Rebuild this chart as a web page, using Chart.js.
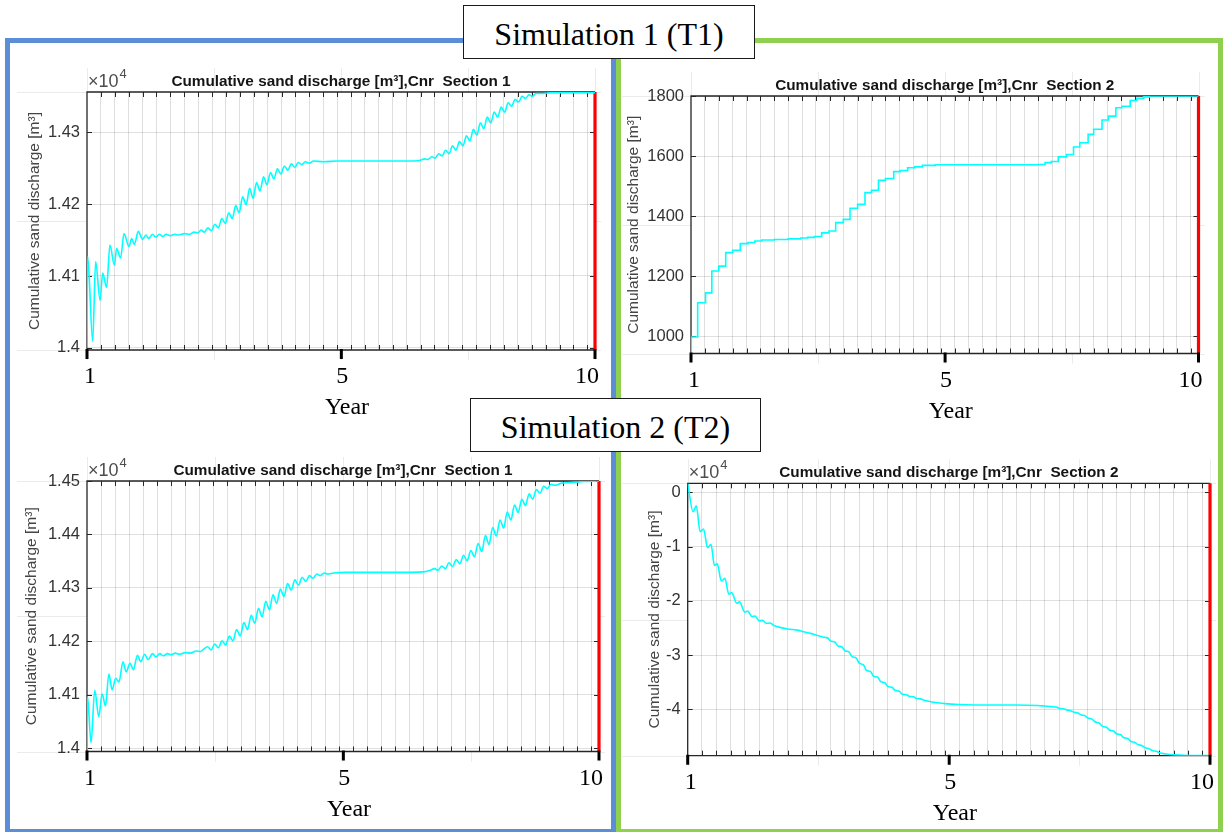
<!DOCTYPE html>
<html><head><meta charset="utf-8">
<script src="https://cdn.jsdelivr.net/npm/chart.js@4.4.1/dist/chart.umd.min.js"></script>
<style>
html,body{margin:0;padding:0;background:#fff;}
body{width:1225px;height:832px;position:relative;overflow:hidden;}
.frame{position:absolute;box-sizing:border-box;border-style:solid;border-width:5px;z-index:1;}
canvas{position:absolute;z-index:2;}
.simbox{position:absolute;box-sizing:border-box;border:1.5px solid #1a1a1a;background:#fff;z-index:3;
 font-family:'Liberation Serif','Times New Roman',serif;font-size:32px;color:#000;
 display:flex;align-items:center;justify-content:center;padding-top:4px;white-space:nowrap;}
</style></head>
<body>
<div class="frame" style="left:5px;top:38px;width:611px;height:796px;border-color:#5b8ed6;"></div>
<div class="frame" style="left:616px;top:38px;width:607px;height:796px;border-color:#8fd14f;"></div>
<canvas id="c1" width="600" height="360" style="left:10px;top:62px"></canvas>
<canvas id="c2" width="598" height="360" style="left:622px;top:62px"></canvas>
<canvas id="c3" width="600" height="372" style="left:10px;top:455px"></canvas>
<canvas id="c4" width="598" height="372" style="left:622px;top:455px"></canvas>
<div class="simbox" style="left:463px;top:5px;width:292px;height:54px;">Simulation 1 (T1)</div>
<div class="simbox" style="left:470px;top:398px;width:291px;height:54px;">Simulation 2 (T2)</div>
<script>
// ---- x axis (time steps, one grid line per step) ----
const X_MAX = 36.55;
const xMajorT = [0, 18.3, X_MAX];
const xMajorLabels = ['1', '5', '10'];

// ---- Simulation 1, Section 1 (m3) ----
const tlT = [0, 0.05, 0.41, 0.62, 0.94, 1.13, 1.41, 1.65, 1.97, 2.13,
 2.42, 2.66, 3.02, 3.21, 3.41, 3.69, 4.0, 4.24, 4.45, 4.7,
 4.95, 5.2, 5.45, 5.7, 6.0, 6.3, 6.6, 7.0, 7.4, 7.7,
 8.0, 8.2, 8.45, 8.7, 8.95, 9.2, 9.45, 9.7, 9.95, 10.2,
 10.45, 10.7, 10.95, 11.2, 11.45, 11.7, 11.95, 12.2, 12.45, 12.7,
 12.95, 13.2, 13.45, 13.7, 13.95, 14.2, 14.45, 14.7, 14.95, 15.2,
 15.45, 15.7, 16.0, 16.3, 17.0, 18.0, 20, 22, 23.5, 24.0,
 24.3, 24.55, 24.8, 25.05, 25.3, 25.55, 25.8, 26.05, 26.3, 26.55,
 26.8, 27.05, 27.3, 27.55, 27.8, 28.05, 28.3, 28.55, 28.8, 29.05,
 29.3, 29.55, 29.8, 30.05, 30.3, 30.55, 30.8, 31.05, 31.3, 31.55,
 31.8, 32.05, 32.3, 32.8, 33.5, 36.55];
const tlV = [14000, 14127, 14009, 14120, 14066, 14104, 14084, 14143, 14115, 14138,
 14125, 14159, 14141, 14152, 14144, 14162, 14151, 14157, 14152, 14158,
 14154, 14158, 14155, 14158, 14156, 14158, 14157, 14159, 14158, 14161,
 14160, 14164, 14161, 14167, 14163, 14172, 14167, 14180, 14173, 14188,
 14180, 14198, 14188, 14210, 14199, 14222, 14208, 14230, 14218, 14238,
 14227, 14244, 14235, 14249, 14242, 14253, 14247, 14256, 14251, 14258,
 14255, 14259, 14257, 14260, 14259, 14260, 14260, 14260, 14260, 14261,
 14263, 14262, 14266, 14264, 14270, 14267, 14275, 14270, 14281, 14275,
 14287, 14281, 14295, 14288, 14304, 14296, 14313, 14305, 14321, 14313,
 14328, 14321, 14335, 14328, 14341, 14336, 14346, 14342, 14350, 14347,
 14352, 14350, 14354, 14354, 14355, 14355];

// ---- Simulation 1, Section 2 (m3), step series ----
const trT = [0, 0.02, 0.48, 1.05, 1.5, 2.0, 2.5, 3.0, 3.55, 4.1,
 4.6, 5.1, 6.0, 7.0, 7.9, 8.4, 8.9, 9.41, 9.94, 10.42,
 10.97, 11.45, 12.0, 12.53, 13.0, 13.5, 14.0, 14.6, 15.06, 15.6,
 16.1, 16.67, 17.6, 25.0, 25.5, 25.95, 26.45, 27.05, 27.55, 28.0,
 28.6, 29.0, 29.6, 30.06, 30.6, 31.03, 31.63, 32.1, 32.6, 33.0, 36.55];
const trV = [945, 997, 1111, 1144, 1217, 1233, 1278, 1286, 1308, 1312,
 1317, 1320, 1322, 1324, 1327, 1329, 1332, 1344, 1350, 1378,
 1389, 1426, 1439, 1478, 1486, 1519, 1525, 1548, 1552, 1561,
 1564, 1569, 1571, 1572, 1578, 1582, 1597, 1605, 1630, 1644,
 1672, 1689, 1720, 1733, 1761, 1766, 1785, 1792, 1797, 1800, 1800];

// ---- Simulation 2, Section 1 (m3) ----
const blT = [0, 0.04, 0.29, 0.55, 0.84, 1.08, 1.32, 1.56, 1.8, 2.04,
 2.28, 2.57, 2.8, 3.07, 3.31, 3.6, 3.84, 4.12, 4.36, 4.68,
 4.92, 5.2, 5.45, 5.75, 6.0, 6.3, 6.6, 7.0, 7.4, 7.8,
 8.1, 8.35, 8.6, 8.86, 9.12, 9.38, 9.64, 9.9, 10.16, 10.42,
 10.68, 10.94, 11.2, 11.46, 11.72, 11.98, 12.24, 12.5, 12.76, 13.02,
 13.28, 13.54, 13.8, 14.06, 14.32, 14.58, 14.84, 15.1, 15.36, 15.62,
 15.88, 16.14, 16.4, 16.66, 16.92, 17.18, 17.6, 18.5, 20, 22,
 24, 24.5, 24.8, 25.06, 25.32, 25.58, 25.84, 26.1, 26.36, 26.62,
 26.88, 27.14, 27.4, 27.66, 27.92, 28.18, 28.44, 28.7, 28.96, 29.22,
 29.48, 29.74, 30.0, 30.26, 30.52, 30.78, 31.04, 31.3, 31.56, 31.82,
 32.08, 32.34, 32.6, 32.86, 33.12, 33.38, 33.9, 34.5, 35.5, 36.55];
const blV = [13996, 14096, 14010, 14109, 14059, 14102, 14079, 14139, 14109, 14131,
 14124, 14162, 14143, 14159, 14147, 14174, 14162, 14176, 14166, 14177,
 14171, 14177, 14173, 14177, 14175, 14178, 14176, 14179, 14178, 14182,
 14181, 14186, 14190, 14184, 14195, 14188, 14201, 14193, 14210, 14201,
 14222, 14210, 14235, 14222, 14249, 14234, 14262, 14246, 14275, 14259,
 14287, 14271, 14298, 14284, 14308, 14296, 14315, 14305, 14320, 14312,
 14323, 14318, 14326, 14323, 14328, 14326, 14328, 14329, 14329, 14329,
 14330, 14333, 14336, 14333, 14341, 14336, 14347, 14340, 14353, 14345,
 14361, 14351, 14370, 14358, 14383, 14368, 14398, 14381, 14413, 14397,
 14427, 14412, 14442, 14427, 14455, 14441, 14466, 14454, 14476, 14466,
 14484, 14477, 14490, 14486, 14494, 14492, 14496, 14497, 14499, 14500];

// ---- Simulation 2, Section 2 (m3) ----
const brT = [0, 0.38, 0.6, 0.87, 1.11, 1.39, 1.63, 1.87, 2.07, 2.35,
 2.6, 2.88, 3.07, 3.44, 3.62, 4.0, 4.2, 4.5, 4.72, 5.0,
 5.25, 5.5, 5.75, 6.0, 6.45, 7.0, 7.66, 8.1, 8.6, 9.1,
 9.5, 9.8, 10.0, 10.3, 10.5, 10.8, 11.0, 11.3, 11.5, 11.8,
 12.0, 12.3, 12.5, 12.8, 13.0, 13.3, 13.5, 13.8, 14.0, 14.3,
 14.5, 14.8, 15.0, 15.3, 15.5, 15.8, 16.0, 16.3, 16.5, 17.0,
 17.5, 18.0, 19.0, 21.0, 23.0, 24.5, 25.0, 25.5, 25.8, 26.0,
 26.3, 26.5, 26.8, 27.0, 27.3, 27.5, 27.8, 28.0, 28.3, 28.5,
 28.8, 29.0, 29.3, 29.5, 29.8, 30.0, 30.3, 30.5, 30.8, 31.0,
 31.3, 31.5, 31.8, 32.0, 32.3, 32.5, 32.8, 33.0, 33.5, 34.0,
 35.0, 36.55];
const brV = [1600, -3570, -2470, -7260, -6760, -10200, -9580, -13500, -13200, -16350,
 -15860, -18800, -18500, -20460, -20200, -22100, -21900, -22900, -22800, -23700,
 -23600, -24150, -24100, -24500, -24900, -25200, -25400, -25700, -26000, -26400,
 -26700, -26850, -27400, -27600, -28300, -28500, -29200, -29450, -30300, -30550,
 -31500, -31800, -32800, -33050, -33900, -34100, -34900, -35100, -35800, -35950,
 -36500, -36650, -37200, -37300, -37600, -37700, -38000, -38080, -38300, -38600,
 -38800, -38950, -39100, -39200, -39200, -39300, -39400, -39500, -39600, -39800,
 -39900, -40100, -40250, -40500, -40700, -41000, -41200, -41600, -41800, -42300,
 -42550, -43100, -43300, -43800, -44000, -44500, -44700, -45200, -45400, -45900,
 -46100, -46500, -46700, -47100, -47250, -47600, -47750, -48000, -48250, -48400,
 -48500, -48520];

// ---- y axis ticks ----
const yTicks1 = [14000, 14100, 14200, 14300];
const yTicks2 = [1000, 1200, 1400, 1600, 1800];
const yTicks3 = [14000, 14100, 14200, 14300, 14400, 14500];
const yTicks4 = [-40000, -30000, -20000, -10000, 0];

const TITLE1 = 'Cumulative sand discharge [m³],Cnr  Section 1';
const TITLE2 = 'Cumulative sand discharge [m³],Cnr  Section 2';
const YTITLE = 'Cumulative sand discharge [m³]';

const gridT = Array.from({length: 36}, (_, i) => i + 1);
const Y_AXIS_W = 60;

const PANELS = {
  c1: {t: tlT, v: tlV, yMin: 13997, yMax: 14356, yTicks: yTicks1, exp: true, title: TITLE1,
       pad: {left: 77 - Y_AXIS_W, top: 30, right: 15, bottom: 72}, yTitleOff: 52, stepped: false},
  c2: {t: trT, v: trV, yMin: 942, yMax: 1800, yTicks: yTicks2, exp: false, title: TITLE2,
       pad: {left: 69 - Y_AXIS_W, top: 34, right: 21.5, bottom: 68.5}, yTitleOff: 57, stepped: 'before'},
  c3: {t: blT, v: blV, yMin: 13994, yMax: 14500, yTicks: yTicks3, exp: true, title: TITLE1,
       pad: {left: 77 - Y_AXIS_W, top: 26, right: 11, bottom: 75.5}, yTitleOff: 55, stepped: false},
  c4: {t: brT, v: brV, yMin: -48550, yMax: 1660, yTicks: yTicks4, exp: true, title: TITLE2,
       pad: {left: 65.7 - Y_AXIS_W, top: 28.3, right: 10, bottom: 71.3}, yTitleOff: 33, stepped: false}
};

const decor = {
  id: 'decor',
  beforeDraw(chart) {
    const a = chart.chartArea, ctx = chart.ctx;
    ctx.save();
    ctx.fillStyle = '#fff';
    ctx.fillRect(a.left, a.top, a.right - a.left, a.bottom - a.top);
    ctx.strokeStyle = 'rgba(0,0,0,0.08)';
    ctx.lineWidth = 1;
    ctx.beginPath();
    for (let i = 0; i <= 4; i++) {
      const x = Math.round(a.left + (a.right - a.left) * i / 4) + 0.5;
      ctx.moveTo(x, a.top - 24); ctx.lineTo(x, a.top);
      ctx.moveTo(x, a.bottom); ctx.lineTo(x, a.bottom + 10);
    }
    for (let j = 0; j <= 2; j++) {
      const y = Math.round(a.top + (a.bottom - a.top) * j / 2) + 0.5;
      ctx.moveTo(a.left - 70, y); ctx.lineTo(a.left, y);
      ctx.moveTo(a.right, y); ctx.lineTo(a.right + 6, y);
    }
    ctx.stroke();
    ctx.restore();
  },
  beforeDatasetsDraw(chart) {
    const P = PANELS[chart.canvas.id];
    const a = chart.chartArea, ctx = chart.ctx;
    const xs = chart.scales.x, ys = chart.scales.y;
    ctx.save();
    ctx.strokeStyle = '#262626';
    ctx.lineWidth = 1;
    ctx.beginPath();
    gridT.forEach(t => {
      const x = Math.round(xs.getPixelForValue(t)) + 0.5;
      ctx.moveTo(x, a.top); ctx.lineTo(x, a.top + 5);
      ctx.moveTo(x, a.bottom); ctx.lineTo(x, a.bottom - 5);
    });
    P.yTicks.forEach(v => {
      const y = Math.round(ys.getPixelForValue(v)) + 0.5;
      ctx.moveTo(a.left, y); ctx.lineTo(a.left + 5, y);
      ctx.moveTo(a.right, y); ctx.lineTo(a.right - 5, y);
    });
    ctx.stroke();
    ctx.lineWidth = 1.3;
    ctx.beginPath();
    ctx.moveTo(a.right, a.top); ctx.lineTo(a.left, a.top);
    ctx.lineTo(a.left, a.bottom); ctx.lineTo(a.right, a.bottom);
    ctx.stroke();
    ctx.restore();
  },
  afterDraw(chart) {
    const P = PANELS[chart.canvas.id];
    const a = chart.chartArea, ctx = chart.ctx;
    const xs = chart.scales.x;
    const cx = (a.left + a.right) / 2;
    ctx.save();
    ctx.textBaseline = 'alphabetic';
    // title
    ctx.fillStyle = '#141414';
    ctx.font = 'bold 15.3px "Liberation Sans", Arial, sans-serif';
    ctx.textAlign = 'center';
    ctx.fillText(P.title, cx, a.top - 6);
    // exponent
    if (P.exp) {
      ctx.fillStyle = '#4d4d4d';
      ctx.textAlign = 'left';
      ctx.font = '18px "Liberation Sans", Arial, sans-serif';
      ctx.fillText('×10', a.left + 1, a.top - 5);
      const w = ctx.measureText('×10').width;
      ctx.font = '13px "Liberation Sans", Arial, sans-serif';
      ctx.fillText('4', a.left + 2 + w, a.top - 14);
    }
    // y title
    ctx.save();
    ctx.translate(a.left - P.yTitleOff, (a.top + a.bottom) / 2);
    ctx.rotate(-Math.PI / 2);
    ctx.font = '15.5px "Liberation Sans", Arial, sans-serif';
    ctx.fillStyle = '#444';
    ctx.textAlign = 'center';
    ctx.textBaseline = 'middle';
    ctx.fillText(YTITLE, 0, 0);
    ctx.restore();
    // major ticks below axis
    ctx.strokeStyle = '#000';
    ctx.lineWidth = 3;
    ctx.beginPath();
    xMajorT.forEach(t => {
      const x = xs.getPixelForValue(t);
      ctx.moveTo(x, a.bottom - 1); ctx.lineTo(x, a.bottom + 9);
    });
    ctx.stroke();
    // x labels (Times)
    ctx.fillStyle = '#000';
    ctx.font = '24px "Liberation Serif", "Times New Roman", serif';
    xMajorT.forEach((t, i) => {
      const x = xs.getPixelForValue(t);
      if (i === 0) { ctx.textAlign = 'center'; ctx.fillText(xMajorLabels[i], x + 3, a.bottom + 33); }
      else if (i === xMajorT.length - 1) { ctx.textAlign = 'right'; ctx.fillText(xMajorLabels[i], x + 4, a.bottom + 33); }
      else { ctx.textAlign = 'center'; ctx.fillText(xMajorLabels[i], x + 1, a.bottom + 33); }
    });
    ctx.textAlign = 'center';
    ctx.fillText('Year', cx + 6, a.bottom + 64);
    ctx.restore();
  }
};

function makeChart(id) {
  const P = PANELS[id];
  const fmt = P.exp ? (v => String(Math.round(v / 100) / 100)) : (v => String(v));
  new Chart(document.getElementById(id), {
    type: 'line',
    data: {
      datasets: [
        {data: P.t.map((t, i) => ({x: t, y: P.v[i]})), borderColor: '#00ffff', borderWidth: 1.6,
         pointRadius: 0, cubicInterpolationMode: 'monotone', stepped: P.stepped, fill: false},
        {data: [{x: X_MAX, y: P.yMin}, {x: X_MAX, y: P.yMax}], borderColor: '#ff0000',
         borderWidth: 3.2, pointRadius: 0, fill: false, clip: false}
      ]
    },
    options: {
      responsive: false, animation: false, devicePixelRatio: 1,
      layout: {padding: P.pad},
      plugins: {legend: {display: false}, tooltip: {enabled: false}, title: {display: false}},
      scales: {
        x: {type: 'linear', min: 0, max: X_MAX,
            afterBuildTicks: ax => { ax.ticks = gridT.map(v => ({value: v})); },
            afterFit: s => { s.height = 0; },
            ticks: {display: false},
            grid: {color: 'rgba(38,38,38,0.15)', lineWidth: 1, drawTicks: false},
            border: {display: false}},
        y: {type: 'linear', min: P.yMin, max: P.yMax,
            afterBuildTicks: ax => { ax.ticks = P.yTicks.map(v => ({value: v})); },
            afterFit: s => { s.width = Y_AXIS_W; },
            ticks: {callback: fmt, color: '#333', padding: 7, autoSkip: false,
                    font: {family: '"Liberation Sans", Arial, sans-serif', size: 16.5}},
            grid: {color: 'rgba(38,38,38,0.15)', lineWidth: 1, drawTicks: false},
            border: {display: false}}
      }
    },
    plugins: [decor]
  });
}
['c1', 'c2', 'c3', 'c4'].forEach(makeChart);
</script>
</body></html>
